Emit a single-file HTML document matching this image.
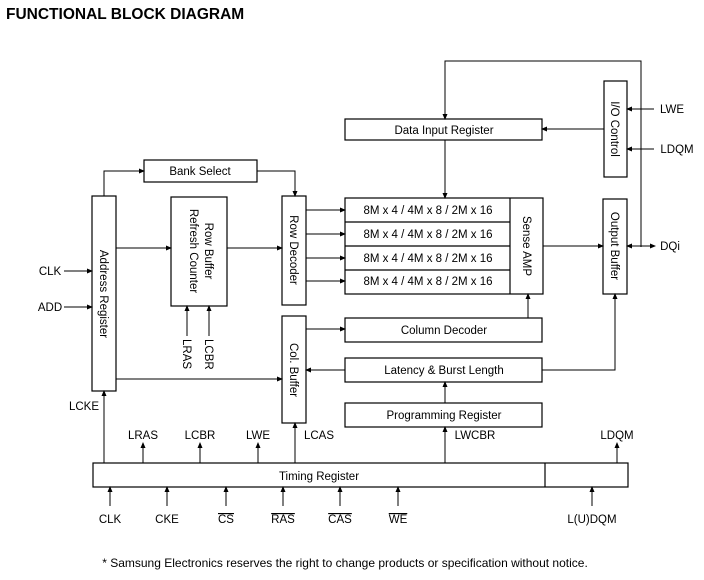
<!DOCTYPE html>
<html><head><meta charset="utf-8"><style>
html,body{margin:0;padding:0;background:#fff;}
svg{display:block;font-family:"Liberation Sans",Arial,sans-serif;}
</style></head><body>
<svg width="704" height="580" viewBox="0 0 704 580" xmlns="http://www.w3.org/2000/svg">
<defs><marker id="a" markerWidth="6" markerHeight="6" refX="5" refY="3" orient="auto" markerUnits="userSpaceOnUse"><path d="M0,0.5 L6,3 L0,5.5 z" fill="#000"/></marker></defs>
<text x="6" y="19" font-size="15.5" font-weight="bold">FUNCTIONAL BLOCK DIAGRAM</text>
<g fill="none" stroke="#000" stroke-width="1.2">
<rect x="144" y="160" width="113" height="22"/>
<rect x="92" y="196" width="24" height="195"/>
<rect x="171" y="197" width="56" height="109"/>
<rect x="282" y="196" width="24" height="109"/>
<rect x="282" y="316" width="24" height="107"/>
<rect x="345" y="198" width="198" height="96"/>
<line x1="510" y1="198" x2="510" y2="294"/>
<line x1="345" y1="222" x2="510" y2="222"/>
<line x1="345" y1="246" x2="510" y2="246"/>
<line x1="345" y1="270" x2="510" y2="270"/>
<rect x="345" y="119" width="197" height="21"/>
<rect x="604" y="81" width="23" height="96"/>
<rect x="603" y="199" width="24" height="95"/>
<rect x="345" y="318" width="197" height="24"/>
<rect x="345" y="358" width="197" height="24"/>
<rect x="345" y="403" width="197" height="24"/>
<rect x="93" y="463" width="535" height="24"/>
<line x1="545" y1="463" x2="545" y2="487"/>
</g>
<g fill="none" stroke="#000" stroke-width="1" marker-end="url(#a)">
<polyline points="104,196 104,171 144,171"/>
<polyline points="257,171 295,171 295,196"/>
<line x1="116" y1="248" x2="171" y2="248"/>
<line x1="227" y1="248" x2="282" y2="248"/>
<line x1="64" y1="271" x2="92" y2="271"/>
<line x1="64" y1="307" x2="92" y2="307"/>
<line x1="187" y1="336" x2="187" y2="306"/>
<line x1="209" y1="336" x2="209" y2="306"/>
<line x1="116" y1="379" x2="282" y2="379"/>
<line x1="306" y1="210" x2="345" y2="210"/>
<line x1="306" y1="234" x2="345" y2="234"/>
<line x1="306" y1="258" x2="345" y2="258"/>
<line x1="306" y1="281" x2="345" y2="281"/>
<line x1="306" y1="329" x2="345" y2="329"/>
<polyline points="345,370 306,370"/>
<polyline points="641,247 641,61 445,61 445,119"/>
<line x1="445" y1="140" x2="445" y2="198"/>
<line x1="604" y1="129" x2="542" y2="129"/>
<line x1="654" y1="109" x2="627" y2="109"/>
<line x1="654" y1="149" x2="627" y2="149"/>
<line x1="543" y1="246" x2="603" y2="246"/>
<line x1="641" y1="246" x2="627" y2="246"/>
<line x1="641" y1="246" x2="655" y2="246"/>
<line x1="528" y1="318" x2="528" y2="294"/>
<polyline points="542,370 615,370 615,294"/>
<line x1="445" y1="403" x2="445" y2="382"/>
<line x1="445" y1="463" x2="445" y2="427"/>
<line x1="104" y1="463" x2="104" y2="391"/>
<line x1="143" y1="463" x2="143" y2="443"/>
<line x1="200" y1="463" x2="200" y2="443"/>
<line x1="258" y1="463" x2="258" y2="443"/>
<line x1="295" y1="463" x2="295" y2="423"/>
<line x1="617" y1="463" x2="617" y2="443"/>
<line x1="110" y1="506" x2="110" y2="487"/>
<line x1="167" y1="506" x2="167" y2="487"/>
<line x1="226" y1="506" x2="226" y2="487"/>
<line x1="283" y1="506" x2="283" y2="487"/>
<line x1="340" y1="506" x2="340" y2="487"/>
<line x1="398" y1="506" x2="398" y2="487"/>
<line x1="592" y1="506" x2="592" y2="487"/>
</g>
<g font-size="11.5" fill="#000" text-anchor="middle">
<text x="200" y="175">Bank Select</text>
<text x="444" y="134">Data Input Register</text>
<text x="428" y="214">8M x 4 / 4M x 8 / 2M x 16</text>
<text x="428" y="238">8M x 4 / 4M x 8 / 2M x 16</text>
<text x="428" y="262">8M x 4 / 4M x 8 / 2M x 16</text>
<text x="428" y="285">8M x 4 / 4M x 8 / 2M x 16</text>
<text x="444" y="334">Column Decoder</text>
<text x="444" y="374">Latency &amp; Burst Length</text>
<text x="444" y="419">Programming Register</text>
<text x="319" y="480">Timing Register</text>
<text transform="translate(100,294) rotate(90)">Address Register</text>
<text transform="translate(205,251) rotate(90)">Row Buffer</text>
<text transform="translate(190,251) rotate(90)">Refresh Counter</text>
<text transform="translate(290,250) rotate(90)">Row Decoder</text>
<text transform="translate(290,370) rotate(90)">Col. Buffer</text>
<text transform="translate(523,246) rotate(90)">Sense AMP</text>
<text transform="translate(611,129) rotate(90)">I/O Control</text>
<text transform="translate(611,246) rotate(90)">Output Buffer</text>
<text transform="translate(183,339) rotate(90)" text-anchor="start">LRAS</text>
<text transform="translate(205,339) rotate(90)" text-anchor="start">LCBR</text>
<text x="50" y="275">CLK</text>
<text x="50" y="311">ADD</text>
<text x="84" y="410">LCKE</text>
<text x="143" y="439">LRAS</text>
<text x="200" y="439">LCBR</text>
<text x="258" y="439">LWE</text>
<text x="319" y="439">LCAS</text>
<text x="475" y="439">LWCBR</text>
<text x="617" y="439">LDQM</text>
<text x="110" y="523">CLK</text>
<text x="167" y="523">CKE</text>
<text x="226" y="523" text-decoration="overline">CS</text>
<text x="283" y="523" text-decoration="overline">RAS</text>
<text x="340" y="523" text-decoration="overline">CAS</text>
<text x="398" y="523" text-decoration="overline">WE</text>
<text x="592" y="523">L(U)DQM</text>
<text x="672" y="113">LWE</text>
<text x="677" y="153">LDQM</text>
<text x="670" y="250">DQi</text>
<text x="345" y="567" font-size="12">* Samsung Electronics reserves the right to change products or specification without notice.</text>
</g>
</svg>
</body></html>
